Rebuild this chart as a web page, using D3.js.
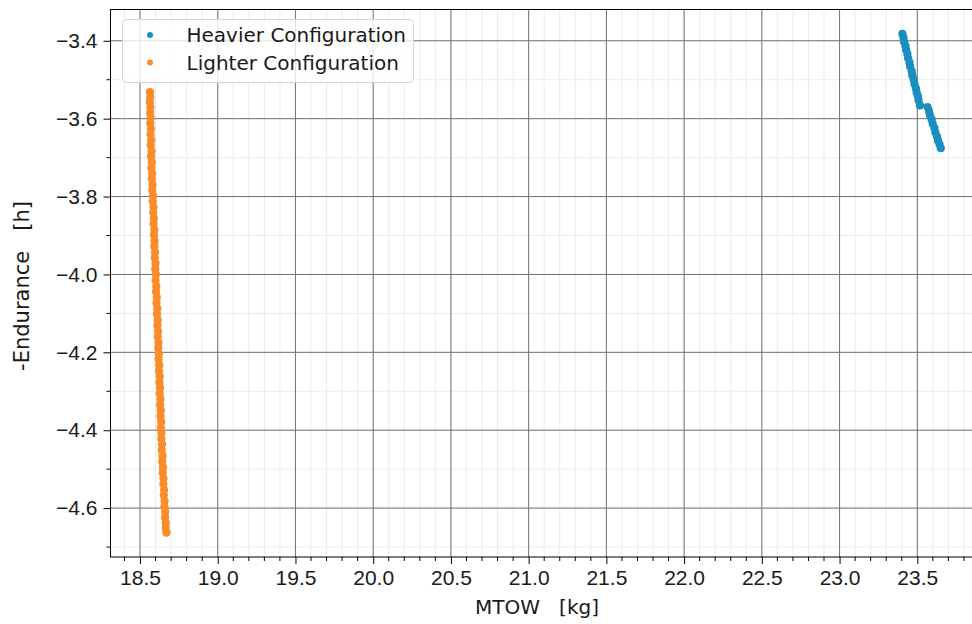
<!DOCTYPE html>
<html>
<head>
<meta charset="utf-8">
<script src="https://cdn.jsdelivr.net/npm/d3@7"></script>
<style>
  body { margin: 0; background: #fff; }
  svg { display: block; font-family: 'DejaVu Sans', sans-serif; }
</style>
</head>
<body>
<div class="vis"></div>
<script>
// values
const heavierMtow = [
  23.404, 23.411, 23.415, 23.424, 23.428, 23.436, 23.441, 23.450, 23.454, 23.464,
  23.468, 23.477, 23.482, 23.491, 23.496, 23.504, 23.508, 23.517,
  23.566, 23.575, 23.581, 23.592, 23.599, 23.610, 23.616, 23.627, 23.633, 23.643, 23.651
]
const heavierEndurance = [
  -3.382, -3.392, -3.403, -3.413, -3.423, -3.433, -3.445, -3.456, -3.466, -3.478,
  -3.489, -3.500, -3.511, -3.522, -3.533, -3.543, -3.553, -3.566,
  -3.570, -3.580, -3.591, -3.602, -3.613, -3.624, -3.635, -3.646, -3.656, -3.666, -3.676
]

const lighterMtow = [
  18.564, 18.566, 18.563, 18.567, 18.565, 18.569, 18.566, 18.570, 18.568, 18.572,
  18.569, 18.574, 18.571, 18.576, 18.573, 18.578, 18.576, 18.581, 18.579, 18.584,
  18.582, 18.587, 18.585, 18.589, 18.587, 18.592, 18.590, 18.594, 18.592, 18.597,
  18.595, 18.600, 18.598, 18.602, 18.600, 18.605, 18.603, 18.608, 18.606, 18.611,
  18.609, 18.614, 18.612, 18.616, 18.614, 18.619, 18.617, 18.621, 18.619, 18.624,
  18.622, 18.627, 18.625, 18.629, 18.627, 18.631, 18.629, 18.634, 18.632, 18.636,
  18.634, 18.638, 18.637, 18.642, 18.640, 18.645, 18.643, 18.648, 18.646, 18.651,
  18.650, 18.655, 18.653, 18.658, 18.657, 18.662, 18.661, 18.666, 18.665, 18.670
]
const lighterEndurance = [
  -3.532, -3.545, -3.558, -3.571, -3.585, -3.598, -3.612, -3.626, -3.640, -3.655,
  -3.668, -3.683, -3.697, -3.712, -3.726, -3.741, -3.755, -3.770, -3.784, -3.798,
  -3.812, -3.827, -3.841, -3.856, -3.870, -3.885, -3.899, -3.914, -3.928, -3.943,
  -3.957, -3.972, -3.986, -4.000, -4.015, -4.030, -4.044, -4.059, -4.073, -4.088,
  -4.102, -4.117, -4.131, -4.146, -4.160, -4.175, -4.189, -4.204, -4.218, -4.233,
  -4.248, -4.262, -4.277, -4.291, -4.306, -4.320, -4.335, -4.349, -4.364, -4.378,
  -4.393, -4.407, -4.422, -4.436, -4.451, -4.466, -4.480, -4.495, -4.509, -4.524,
  -4.538, -4.553, -4.567, -4.582, -4.596, -4.610, -4.624, -4.638, -4.651, -4.663
]

const seriesNames = ['Heavier Configuration', 'Lighter Configuration']
const seriesColors = ['#1b8ec0', '#fb8c2a']

const xTickValues = [18.5, 19.0, 19.5, 20.0, 20.5, 21.0, 21.5, 22.0, 22.5, 23.0, 23.5]
const yTickValues = [-3.4, -3.6, -3.8, -4.0, -4.2, -4.4, -4.6]

const W = 972
const H = 624
const marginLeft = 110.5
const marginTop = 9.5
const width = 862.5 // right spine sits just past the window edge
const height = 547.5

const svg = d3
  .select('.vis')
  .append('svg')
  .attr('width', W)
  .attr('height', H)

const g = svg.append('g').attr('transform', `translate(${marginLeft},${marginTop})`)

// scales
const x = d3.scaleLinear().domain([18.3102, 23.8583]).range([0, width])
const y = d3.scaleLinear().domain([-4.7255, -3.3197]).range([height, 0])

const xMinor = d3.range(184, 239).map(d => d / 10)
const yMinor = d3.range(-47, -33).map(d => d / 10)
const fmt = d3.format('.1f')

// minor grid
const minor = g.append('g').attr('class', 'grid minor')
minor.selectAll('line.v')
  .data(xMinor)
  .join(enter => enter.append('line').attr('class', 'v'))
  .attr('x1', d => x(d)).attr('x2', d => x(d))
  .attr('y1', 0).attr('y2', height)
minor.selectAll('line.h')
  .data(yMinor)
  .join(enter => enter.append('line').attr('class', 'h'))
  .attr('x1', 0).attr('x2', width)
  .attr('y1', d => y(d)).attr('y2', d => y(d))
minor.selectAll('line')
  .attr('stroke', '#ebebeb')
  .attr('stroke-width', 1)

// major grid
const major = g.append('g').attr('class', 'grid major')
major.selectAll('line.v')
  .data(xTickValues)
  .join(enter => enter.append('line').attr('class', 'v'))
  .attr('x1', d => x(d)).attr('x2', d => x(d))
  .attr('y1', 0).attr('y2', height)
major.selectAll('line.h')
  .data(yTickValues)
  .join(enter => enter.append('line').attr('class', 'h'))
  .attr('x1', 0).attr('x2', width)
  .attr('y1', d => y(d)).attr('y2', d => y(d))
major.selectAll('line')
  .attr('stroke', '#727272')
  .attr('stroke-width', 1)

// scatter
const series = [
  { mtow: heavierMtow, endurance: heavierEndurance },
  { mtow: lighterMtow, endurance: lighterEndurance }
]
series.forEach((s, i) => {
  g.append('g')
    .attr('class', `series-${i}`)
    .selectAll('circle')
    .data(s.mtow.map((m, j) => [m, s.endurance[j]]))
    .join('circle')
    .attr('cx', d => x(d[0]))
    .attr('cy', d => y(d[1]))
    .attr('r', 4.1)
    .attr('fill', seriesColors[i])
})

// axes
const xAxis = d3.axisBottom(x).tickValues(xTickValues).tickFormat(fmt).tickSize(7).tickPadding(6).tickSizeOuter(0)
const yAxis = d3.axisLeft(y).tickValues(yTickValues).tickFormat(fmt).tickSize(7).tickPadding(6).tickSizeOuter(0)

g.append('g')
  .attr('class', 'x axis')
  .attr('transform', `translate(0,${height})`)
  .call(xAxis)
  .call(ax => ax.selectAll('.tick text').attr('font-size', 21).attr('fill', '#1a1a1a'))
  .call(ax => ax.select('.domain').remove())

g.append('g')
  .attr('class', 'y axis')
  .call(yAxis)
  .call(ax => ax.selectAll('.tick text').attr('font-size', 21).attr('fill', '#1a1a1a'))
  .call(ax => ax.select('.domain').remove())

// minor ticks
g.append('g')
  .selectAll('line')
  .data(xMinor.filter(d => !xTickValues.some(t => Math.abs(t - d) < 1e-6)))
  .join('line')
  .attr('x1', d => x(d)).attr('x2', d => x(d))
  .attr('y1', height).attr('y2', height + 4)
  .attr('stroke', '#000')
g.append('g')
  .selectAll('line')
  .data(yMinor.filter(d => !yTickValues.some(t => Math.abs(t - d) < 1e-6)))
  .join('line')
  .attr('x1', -4).attr('x2', 0)
  .attr('y1', d => y(d)).attr('y2', d => y(d))
  .attr('stroke', '#000')

// spines
g.append('rect')
  .attr('width', width)
  .attr('height', height)
  .attr('fill', 'none')
  .attr('stroke', '#000')
  .attr('stroke-width', 1)

// axis labels
svg.append('text')
  .attr('x', 537)
  .attr('y', 614)
  .attr('text-anchor', 'middle')
  .attr('font-size', 20)
  .attr('fill', '#1a1a1a')
  .style('white-space', 'pre')
  .text('MTOW   [kg]')

svg.append('text')
  .attr('transform', 'translate(29,286) rotate(-90)')
  .attr('text-anchor', 'middle')
  .attr('font-size', 21)
  .attr('fill', '#1a1a1a')
  .style('white-space', 'pre')
  .text('-Endurance   [h]')

// legend
const legend = svg.append('g').attr('transform', 'translate(122.5,19.5)')
legend.append('rect')
  .attr('width', 291)
  .attr('height', 63)
  .attr('rx', 4)
  .attr('fill', 'rgba(255,255,255,0.8)')
  .attr('stroke', '#d6d6d6')

seriesNames.forEach((name, i) => {
  const row = legend.append('g').attr('transform', `translate(0,${15.5 + i * 27.5})`)
  row.append('circle')
    .attr('cx', 27.5)
    .attr('cy', 0)
    .attr('r', 3)
    .attr('fill', seriesColors[i])
  row.append('text')
    .attr('x', 64)
    .attr('y', 7)
    .attr('font-size', 20)
    .attr('fill', '#1a1a1a')
    .text(name)
})
</script>
</body>
</html>
